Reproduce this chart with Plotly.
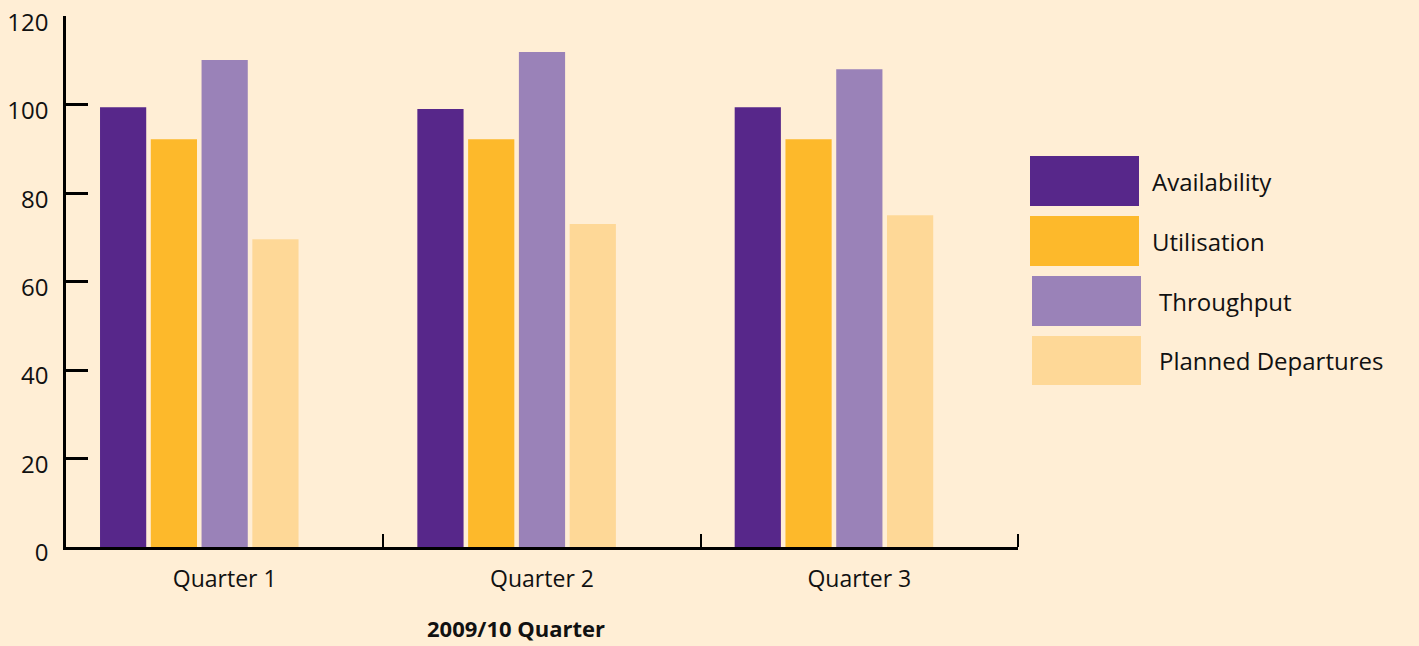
import plotly.graph_objects as go

quarters = ["Quarter 1", "Quarter 2", "Quarter 3"]
availability = [99.4, 99.0, 99.4]
utilisation = [92.2, 92.2, 92.2]
throughput = [110.1, 111.9, 108.0]
planned_departures = [69.6, 73.0, 75.0]

series_names = ["Availability", "Utilisation", "Throughput", "Planned Departures"]
series_values = [availability, utilisation, throughput, planned_departures]
colors = ["#57278A", "#FDB92B", "#9A82B8", "#FED897"]
y_ticks = [0, 20, 40, 60, 80, 100, 120]

BG = "#FFEED5"
FONT = "Open Sans"

fig = go.Figure()
for name, vals, col in zip(series_names, series_values, colors):
    fig.add_trace(go.Bar(x=quarters, y=vals, name=name, marker=dict(color=col, line=dict(width=0)),
                         showlegend=False))
# empty fifth slot (as in the original spreadsheet chart)
fig.add_trace(go.Bar(x=quarters, y=[0, 0, 0], marker=dict(color="rgba(0,0,0,0)", line=dict(width=0)),
                     showlegend=False, hoverinfo="skip"))

L, R, T, B = 66, 401, 16, 99
PW, PH = 1419 - L - R, 646 - T - B

fig.update_layout(
    width=1419, height=646,
    paper_bgcolor=BG, plot_bgcolor=BG,
    margin=dict(l=L, r=R, t=T, b=B, autoexpand=False),
    barmode="group", bargap=0.2, bargroupgap=0.09,
    font=dict(family=FONT, color="#111111", size=24),
)
fig.update_yaxes(range=[0, 120.05], tickvals=y_ticks, showgrid=False, zeroline=False,
                 showline=True, linecolor="black", linewidth=2.5, automargin=False,
                 ticks="inside", ticklen=22, tickwidth=2.5, tickcolor="black",
                 tickfont=dict(size=24, family=FONT, color="#111111"),
                 ticklabelstandoff=10, ticklabelshift=6)
fig.update_xaxes(showgrid=False, showline=True, linecolor="black", linewidth=3, automargin=False,
                 ticks="inside", ticklen=13, tickwidth=2, tickcolor="black",
                 tickson="boundaries",
                 tickfont=dict(size=23, family=FONT, color="#111111"),
                 ticklabelstandoff=9)

# tick at right end of the category axis
fig.add_shape(type="line", xref="paper", yref="paper", x0=1, x1=1, y0=0, y1=13 / PH,
              line=dict(color="black", width=2))

fig.add_annotation(text="<b>2009/10 Quarter</b>", xref="paper", yref="paper",
                   x=(516 - L) / PW, y=-(644 - 547) / PH, xanchor="center", yanchor="bottom",
                   showarrow=False, font=dict(size=22, family=FONT, color="#111111"),
                   borderpad=0)

# legend drawn as large swatches
leg = [(1030, 1139, 156, 206, 1150), (1030, 1139, 216, 266, 1150),
       (1032, 1141, 276, 326, 1157), (1032, 1141, 336, 385, 1157)]
for (x0, x1, y0, y1, tx), name, col in zip(leg, series_names, colors):
    fig.add_shape(type="rect", xref="paper", yref="paper",
                  x0=(x0 - L) / PW, x1=(x1 - L) / PW,
                  y0=(547 - y1) / PH, y1=(547 - y0) / PH,
                  fillcolor=col, line=dict(width=0))
    fig.add_annotation(text=name, xref="paper", yref="paper",
                       x=(tx - L) / PW, y=(547 - (y0 + y1) / 2) / PH,
                       xanchor="left", yanchor="middle", showarrow=False,
                       font=dict(size=24, family=FONT, color="#111111"))

fig.write_html("out.html", config={"displayModeBar": False}, post_script=(
    "document.body.style.margin='0';document.body.style.padding='0';"
    "document.documentElement.style.overflow='hidden';"
    "document.body.style.background='" + BG + "';"))
